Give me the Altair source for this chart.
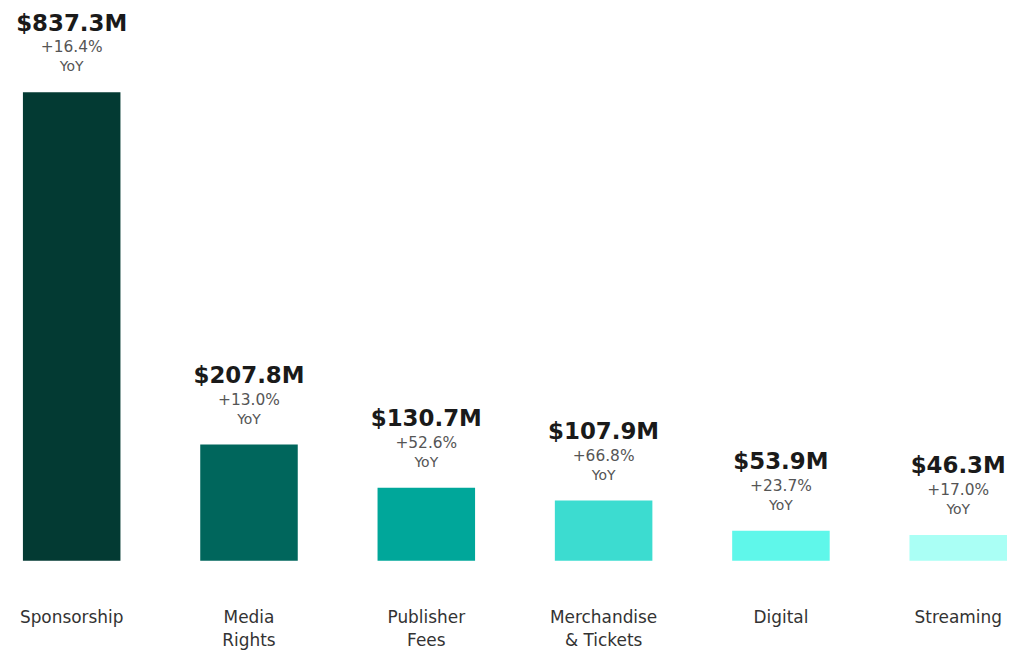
import altair as alt
import pandas as pd

categories = ["Sponsorship", "Media|Rights", "Publisher|Fees", "Merchandise|& Tickets", "Digital", "Streaming"]
values = [837.3, 207.8, 130.7, 107.9, 53.9, 46.3]
value_labels = ["$837.3M", "$207.8M", "$130.7M", "$107.9M", "$53.9M", "$46.3M"]
growth_labels = ["+16.4%", "+13.0%", "+52.6%", "+66.8%", "+23.7%", "+17.0%"]
colors = ["#033a33", "#00665c", "#00a79a", "#3cdcd0", "#5ff7ea", "#aafff5"]

df = pd.DataFrame({
    "cat": categories,
    "value": values,
    "vlabel": value_labels,
    "glabel": growth_labels,
    "yoy": ["YoY"] * len(categories),
})

FONT = "DejaVu Sans"

x = alt.X("cat:N", sort=categories,
          scale=alt.Scale(paddingInner=0.45, paddingOuter=0),
          axis=alt.Axis(title=None, domain=False, ticks=False, labelAngle=0,
                        labelExpr="split(datum.label, '|')",
                        labelFont=FONT, labelFontSize=17, labelColor="#333333",
                        labelPadding=57, labelLineHeight=23, labelBaseline="middle"))
y = alt.Y("value:Q", scale=alt.Scale(domain=[0, 837.3], nice=False),
          axis=None)

base = alt.Chart(df).encode(x=x, y=y)

bars = base.mark_bar().encode(
    color=alt.Color("cat:N", sort=categories,
                    scale=alt.Scale(domain=categories, range=colors), legend=None)
)
t1 = base.mark_text(dy=-69, font=FONT, fontSize=23, fontWeight="bold",
                    color="#1a1a1a", baseline="middle").encode(text="vlabel:N")
t2 = base.mark_text(dy=-45, font=FONT, fontSize=15.5, color="#555555",
                    baseline="middle").encode(text="glabel:N")
t3 = base.mark_text(dy=-25, font=FONT, fontSize=14, color="#555555",
                    baseline="middle").encode(text="yoy:N")

chart = alt.layer(bars, t1, t2, t3).properties(
    width=989, height=471,
    autosize=alt.AutoSizeParams(type="none"),
    padding={"left": 15, "top": 83, "right": 0, "bottom": 96},
).configure_view(stroke=None)

chart.save("out.html", embed_options={"renderer": "svg", "actions": False})
